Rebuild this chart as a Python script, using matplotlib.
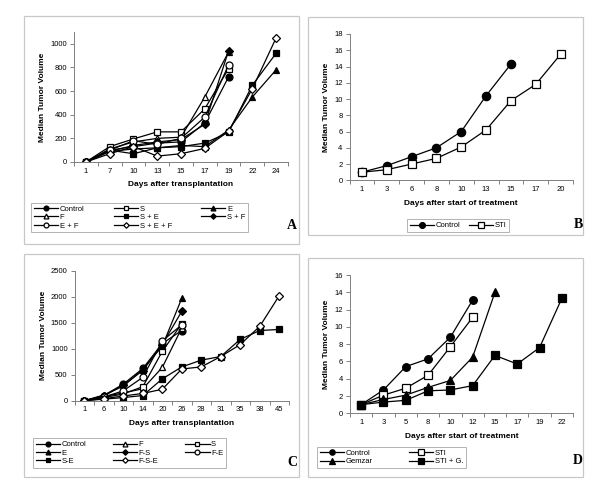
import matplotlib
matplotlib.use("Agg")
import matplotlib.pyplot as plt
from matplotlib.patches import Rectangle

plt.rcParams['font.family'] = ['Liberation Sans', 'DejaVu Sans']

# ---- panel A ----
days_a = ["1", "7", "10", "13", "15", "17", "19", "22", "24"]
a_control = [0, 100, 130, 160, 170, 330, 720]
a_s = [0, 130, 195, 255, 255, 450, 790]
a_e = [0, 90, 110, 120, 140, 130, 270, 550, 780]
a_f = [0, 110, 170, 200, 210, 550, 930]
a_se = [0, 100, 70, 120, 130, 160, 250, 650, 920]
a_sf = [0, 90, 140, 170, 190, 320, 940]
a_ef = [0, 100, 180, 150, 200, 380, 820]
a_sef = [0, 70, 130, 50, 70, 115, 260, 620, 1050]

# ---- panel B ----
days_b = ["1", "3", "6", "8", "10", "13", "15", "17", "20"]
b_control = [1, 1.8, 2.9, 4.0, 6.0, 10.4, 14.3]
b_sti = [1, 1.3, 2.0, 2.7, 4.1, 6.2, 9.8, 11.8, 15.5]

# ---- panel C ----
days_c = ["1", "6", "10", "14", "20", "26", "28", "31", "35", "38", "45"]
c_control = [0, 100, 320, 620, 1100, 1350]
c_f = [0, 80, 150, 230, 640, 1400]
c_s = [0, 60, 130, 270, 950, 1480]
c_e = [0, 110, 280, 600, 1050, 1970]
c_fs = [0, 90, 300, 580, 1080, 1720]
c_fe = [0, 70, 190, 450, 1150, 1460]
c_se = [0, 30, 60, 100, 420, 650, 780, 850, 1180, 1350, 1370]
c_fse = [0, 40, 90, 140, 220, 610, 650, 850, 1080, 1430, 2020]

# ---- panel D ----
days_d = ["1", "3", "5", "8", "10", "12", "15", "17", "19", "22"]
d_control = [1, 2.7, 5.4, 6.3, 8.8, 13.1]
d_sti = [1, 2.1, 2.9, 4.4, 7.7, 11.1]
d_gemzar = [1, 1.6, 2.1, 3.0, 3.8, 6.5, 14.0]
d_stig = [1, 1.3, 1.5, 2.6, 2.7, 3.2, 6.7, 5.7, 7.6, 13.3]

W, H = 600, 496
fig = plt.figure(figsize=(6, 4.96), dpi=100)


def rect(l, t, r, b):
    return [l / W, 1 - b / H, (r - l) / W, (b - t) / H]


def frame(l, t, r, b):
    fig.patches.append(Rectangle((l / W, 1 - b / H), (r - l) / W, (b - t) / H,
                                 transform=fig.transFigure, fill=False,
                                 edgecolor="#c8c8c8", linewidth=0.9))


STY = {
    "fc": dict(marker="o", mfc="black"),
    "oc": dict(marker="o", mfc="white"),
    "fs": dict(marker="s", mfc="black"),
    "os": dict(marker="s", mfc="white"),
    "ft": dict(marker="^", mfc="black"),
    "ot": dict(marker="^", mfc="white"),
    "fd": dict(marker="D", mfc="black"),
    "od": dict(marker="D", mfc="white"),
}


def line(ax, vals, sty, label, ms=5.0):
    s = STY[sty]
    m = ms * (0.8 if s["marker"] == "D" else 1.0)
    h, = ax.plot(range(len(vals)), vals, color="black", lw=0.9,
                 marker=s["marker"], mfc=s["mfc"], mec="black", mew=0.9,
                 ms=m, label=label)
    return h


def style(ax, cats, ymax, ystep, xlabel):
    ax.set_xlim(-0.5, len(cats) - 0.5)
    ax.set_ylim(0, ymax)
    ax.set_xticks(range(len(cats)))
    ax.set_xticklabels(cats)
    ax.set_xticks([i + 0.5 for i in range(-1, len(cats))], minor=True)
    ax.tick_params(axis="x", which="major", length=0, labelsize=5.5, pad=4)
    ax.tick_params(axis="x", which="minor", length=3, color="#808080", width=0.7)
    yt = []
    v = 0
    while v <= ymax + 1e-9:
        yt.append(v)
        v += ystep
    ax.set_yticks(yt)
    ax.tick_params(axis="y", length=3, color="#808080", width=0.7, labelsize=5.5, pad=2)
    for sp in ("top", "right"):
        ax.spines[sp].set_visible(False)
    for sp in ("left", "bottom"):
        ax.spines[sp].set_color("#808080")
        ax.spines[sp].set_linewidth(0.7)
    ax.set_xlabel(xlabel, fontsize=6, fontweight="bold", labelpad=5)
    ax.set_ylabel("Median Tumor Volume", fontsize=6, fontweight="bold", labelpad=3)


def legend(ax, handles, ncol, l, t, r, b):
    lg = fig.legend(handles=handles, ncol=ncol, loc="center left",
                    bbox_to_anchor=(l / W, 1 - b / H, (r - l) / W, (b - t) / H),
                    mode="expand", fontsize=5.5, frameon=True, fancybox=False,
                    edgecolor="#a0a0a0", handlelength=3.2, handletextpad=0.2,
                    borderpad=0.35, labelspacing=0.15, columnspacing=1.0,
                    markerscale=0.7, borderaxespad=0)
    lg.get_frame().set_linewidth(0.7)


def letter(txt, x, y):
    fig.text(x / W, 1 - y / H, txt, fontsize=10, fontweight="bold",
             family="Liberation Serif", ha="center", va="center")


# Panel A
frame(24, 16, 299, 244)
ax = fig.add_axes(rect(74, 32, 288, 162))
h = {}
h["Control"] = line(ax, a_control, "fc", "Control")
h["S"] = line(ax, a_s, "os", "S")
h["E"] = line(ax, a_e, "ft", "E")
h["F"] = line(ax, a_f, "ot", "F")
h["S + E"] = line(ax, a_se, "fs", "S + E")
h["S + F"] = line(ax, a_sf, "fd", "S + F")
h["E + F"] = line(ax, a_ef, "oc", "E + F")
h["S + E + F"] = line(ax, a_sef, "od", "S + E + F")
style(ax, days_a, 1100, 200, "Days after transplantation")
order = ["Control", "F", "E + F", "S", "S + E", "S + E + F", "E", "S + F"]
legend(ax, [h[k] for k in order], 3, 31, 201, 248, 234)
letter("A", 292, 226)

# Panel B
frame(308, 17, 583, 235)
ax = fig.add_axes(rect(349.5, 34, 573, 180.3))
hb1 = line(ax, b_control, "fc", "Control", ms=6)
hb2 = line(ax, b_sti, "os", "STI", ms=6)
style(ax, days_b, 18, 2, "Days after start of treatment")
legend(ax, [hb1, hb2], 2, 407, 218, 509, 233)
letter("B", 578, 225)

# Panel C
frame(24, 254, 299, 477)
ax = fig.add_axes(rect(74.6, 270.7, 289, 400.7))
h = {}
h["Control"] = line(ax, c_control, "fc", "Control")
h["F"] = line(ax, c_f, "ot", "F")
h["S"] = line(ax, c_s, "os", "S")
h["E"] = line(ax, c_e, "ft", "E")
h["F-S"] = line(ax, c_fs, "fd", "F-S")
h["F-E"] = line(ax, c_fe, "oc", "F-E")
h["S-E"] = line(ax, c_se, "fs", "S-E")
h["F-S-E"] = line(ax, c_fse, "od", "F-S-E")
style(ax, days_c, 2500, 500, "Days after transplantation")
order = ["Control", "E", "S-E", "F", "F-S", "F-S-E", "S", "F-E"]
legend(ax, [h[k] for k in order], 3, 33, 437, 226, 469)
letter("C", 292, 462)

# Panel D
frame(308, 258, 583, 477)
ax = fig.add_axes(rect(350, 275, 573, 413.3))
hd1 = line(ax, d_control, "fc", "Control", ms=5.5)
hd2 = line(ax, d_sti, "os", "STI", ms=5.5)
hd3 = line(ax, d_gemzar, "ft", "Gemzar", ms=5.5)
hd4 = line(ax, d_stig, "fs", "STI + G.", ms=5.5)
style(ax, days_d, 16, 2, "Days after start of treatment")
legend(ax, [hd1, hd3, hd2, hd4], 2, 317, 446, 466, 469)
letter("D", 578, 460)

fig.savefig("out.png", dpi=100)
